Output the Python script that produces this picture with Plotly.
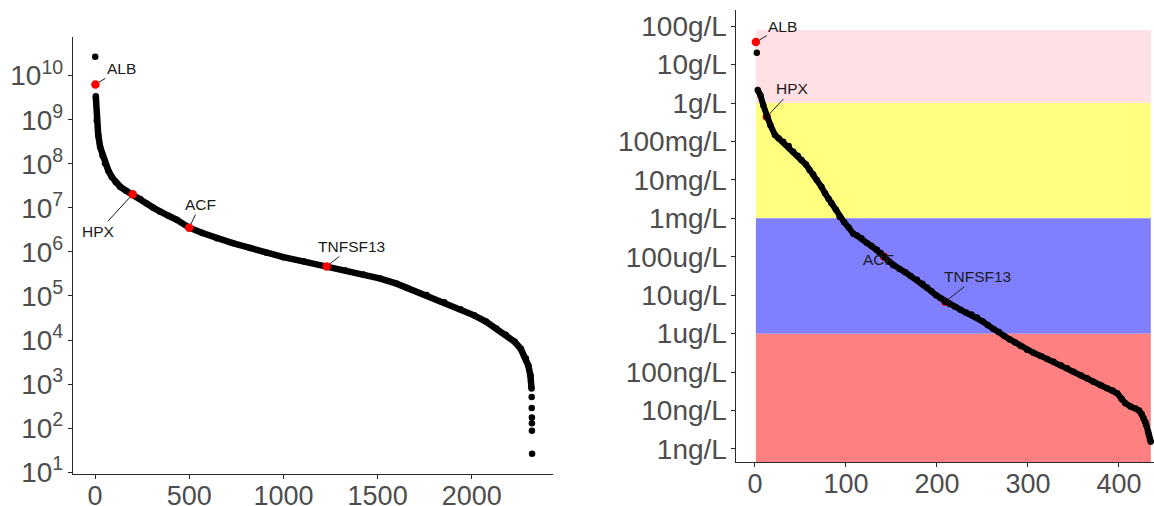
import numpy as np
import plotly.graph_objects as go

# ---------------- data: left panel (rank vs abundance) ----------------
left_rank = [4, 9, 17, 27, 40, 53, 70, 89, 110, 133,
             165, 200, 240, 274, 310, 345, 390, 434, 500, 570,
             646, 730, 823, 910, 1000, 1110, 1230, 1330, 1424, 1510,
             1601, 1657, 1760, 1854, 1940, 2012, 2075, 2130, 2180, 2228,
             2260, 2287, 2300, 2311, 2317]
left_log10 = [9.53, 8.98, 8.65, 8.38, 8.18, 8.01, 7.85, 7.70, 7.58, 7.48,
              7.39, 7.31, 7.20, 7.10, 7.00, 6.91, 6.82, 6.73, 6.55, 6.43,
              6.31, 6.20, 6.09, 5.98, 5.88, 5.78, 5.67, 5.58, 5.49, 5.40,
              5.28, 5.18, 5.02, 4.86, 4.70, 4.56, 4.42, 4.26, 4.12, 3.96,
              3.80, 3.58, 3.42, 3.20, 2.90]
left_extra_rank = [1, 2318, 2318, 2319, 2319, 2319, 2320]
left_extra_log10 = [10.43, 2.71, 2.46, 2.24, 2.11, 1.94, 1.42]
left_hl_names = ["ALB", "HPX", "ACF", "TNFSF13"]
left_hl_rank = [2, 200, 500, 1230]
left_hl_log10 = [9.80, 7.31, 6.55, 5.67]
left_x_ticks = [0, 500, 1000, 1500, 2000]
left_y_tick_exp = [1, 2, 3, 4, 5, 6, 7, 8, 9, 10]

# ---------------- data: right panel (rank vs concentration, ng/L) ----------------
right_rank = [3, 6, 9, 13,
              17, 22, 26, 31, 37, 42, 47, 51, 56, 60,
              64, 68, 73, 77, 81, 84, 89, 93, 98, 103,
              108, 112, 117, 123, 128, 134, 138, 142, 147, 152,
              159, 165, 171, 178, 184, 189, 194, 199, 204, 209,
              214, 220, 226, 232, 238, 244, 250, 256, 262, 268,
              274, 280, 286, 292, 299, 306, 314, 321, 328, 336,
              343, 350, 358, 365, 372, 380, 387, 393, 398, 403,
              407, 413, 418, 422, 425, 427, 429, 430, 432, 433,
              434, 435]
right_log10_ngL = [9.34, 9.20, 8.95, 8.64,
                   8.42, 8.17, 8.08, 7.99, 7.88, 7.73, 7.63, 7.52, 7.40, 7.26,
                   7.14, 7.00, 6.82, 6.65, 6.50, 6.39, 6.22, 6.04, 5.90, 5.76,
                   5.60, 5.55, 5.48, 5.36, 5.28, 5.18, 5.10, 5.00, 4.88, 4.78,
                   4.68, 4.60, 4.50, 4.40, 4.30, 4.20, 4.10, 4.00, 3.92, 3.83,
                   3.77, 3.70, 3.62, 3.55, 3.50, 3.42, 3.32, 3.22, 3.12, 3.04,
                   2.94, 2.85, 2.77, 2.68, 2.58, 2.50, 2.42, 2.34, 2.27, 2.18,
                   2.10, 2.01, 1.92, 1.84, 1.75, 1.66, 1.58, 1.52, 1.45, 1.30,
                   1.19, 1.10, 1.06, 1.00, 0.90, 0.80, 0.70, 0.62, 0.45, 0.36,
                   0.25, 0.19]
right_extra_rank = [2]
right_extra_log10_ngL = [10.31]
right_hl_names = ["ALB", "HPX", "ACF", "TNFSF13"]
right_hl_rank = [1, 13, 142, 209]
right_hl_log10_ngL = [10.585, 8.64, 5.00, 3.83]
right_x_ticks = [0, 100, 200, 300, 400]
right_y_tick_exp = [0, 1, 2, 3, 4, 5, 6, 7, 8, 9, 10, 11]
right_y_tick_labels = ["1ng/L", "10ng/L", "100ng/L", "1ug/L", "10ug/L", "100ug/L",
                       "1mg/L", "10mg/L", "100mg/L", "1g/L", "10g/L", "100g/L"]

# concentration bands (log10 ng/L)
band_low = [9, 6, 3, -3]
band_high = [10.9, 9, 6, 3]
band_colors = ["#FFE0E5", "#FFFF80", "#8080FF", "#FF8080"]
band_rank = [1, 435]

FONT = "Liberation Sans, Arial, sans-serif"
TICK_GREY = "#4D4D4D"
AX_COL = "#2a2a2a"

def p10(v):
    return [10.0 ** x for x in v]

fig = go.Figure()

# ---- left panel ----
fig.add_trace(go.Scatter(x=left_rank, y=p10(left_log10), mode="lines+markers",
                         line=dict(color="black", width=6.5),
                         marker=dict(color="black", size=6.5),
                         xaxis="x", yaxis="y", showlegend=False, hoverinfo="skip"))
fig.add_trace(go.Scatter(x=left_extra_rank, y=p10(left_extra_log10), mode="markers",
                         marker=dict(color="black", size=6.5),
                         xaxis="x", yaxis="y", showlegend=False, hoverinfo="skip"))
fig.add_trace(go.Scatter(x=left_hl_rank, y=p10(left_hl_log10), mode="markers",
                         marker=dict(color="#FF0000", size=8.5),
                         xaxis="x", yaxis="y", showlegend=False, hoverinfo="skip"))

# ---- right panel ----
for lo, hi, col in zip(band_low, band_high, band_colors):
    fig.add_trace(go.Scatter(
        x=[band_rank[0], band_rank[1], band_rank[1], band_rank[0], band_rank[0]],
        y=p10([lo, lo, hi, hi, lo]), mode="lines", fill="toself",
        fillcolor=col, line=dict(width=0, color=col),
        xaxis="x2", yaxis="y2", showlegend=False, hoverinfo="skip"))
fig.add_trace(go.Scatter(x=right_hl_rank, y=p10(right_hl_log10_ngL), mode="markers",
                         marker=dict(color="#FF0000", size=8.5),
                         xaxis="x2", yaxis="y2", showlegend=False, hoverinfo="skip"))
fig.add_trace(go.Scatter(x=right_rank, y=p10(right_log10_ngL), mode="lines+markers",
                         line=dict(color="black", width=6),
                         marker=dict(color="black", size=6.5),
                         xaxis="x2", yaxis="y2", showlegend=False, hoverinfo="skip"))
fig.add_trace(go.Scatter(x=right_extra_rank, y=p10(right_extra_log10_ngL), mode="markers",
                         marker=dict(color="black", size=6.5),
                         xaxis="x2", yaxis="y2", showlegend=False, hoverinfo="skip"))

# ---- labels ----
lab_font = dict(family=FONT, size=15.5, color="#1a1a1a")
left_offsets = {"ALB": (26, -16), "HPX": (-34, 37), "ACF": (11, -23), "TNFSF13": (25, -20)}
right_offsets = {"ALB": (27, -16), "HPX": (26, -28), "TNFSF13": (32, -25)}
annotations = []
for n, r, v in zip(left_hl_names, left_hl_rank, left_hl_log10):
    dx, dy = left_offsets[n]
    annotations.append(dict(x=r, y=v, xref="x", yref="y", text=n, showarrow=True,
                            arrowhead=0, arrowwidth=1, arrowcolor="#1a1a1a",
                            ax=dx, ay=dy, standoff=4, font=lab_font))
for n, r, v in zip(right_hl_names, right_hl_rank, right_hl_log10_ngL):
    if n in right_offsets:
        dx, dy = right_offsets[n]
        annotations.append(dict(x=r, y=v, xref="x2", yref="y2", text=n, showarrow=True,
                                arrowhead=0, arrowwidth=1, arrowcolor="#1a1a1a",
                                ax=dx, ay=dy, standoff=4, font=lab_font))
    else:
        annotations.append(dict(x=r, y=v, xref="x2", yref="y2", text=n, showarrow=False,
                                xshift=-6, yshift=-3, font=lab_font))

tick_font = dict(family=FONT, size=28, color=TICK_GREY)
xtick_font = dict(family=FONT, size=27, color=TICK_GREY)
axis_common = dict(showgrid=False, zeroline=False, showline=True, linecolor=AX_COL,
                   linewidth=1.3, ticks="outside", ticklen=4, tickwidth=1.2,
                   tickcolor=AX_COL, automargin=False)

fig.update_layout(
    width=1154, height=506,
    margin=dict(l=0, r=0, t=0, b=0),
    paper_bgcolor="white", plot_bgcolor="white",
    font=dict(family=FONT),
    xaxis=dict(domain=[73 / 1154, 553 / 1154], range=[-117, 2431], anchor="y",
               tickmode="array", tickvals=left_x_ticks, ticklabelstandoff=-7,
               tickfont=xtick_font,
               ticktext=[str(t) for t in left_x_ticks], **axis_common),
    yaxis=dict(domain=[32 / 506, 468.7 / 506], type="log", range=[0.96, 10.87], anchor="x",
               tickmode="array", tickvals=[10.0 ** e for e in left_y_tick_exp],
               ticklabelstandoff=-1, tickfont=tick_font,
               ticktext=["10<sup>%d</sup>" % e for e in left_y_tick_exp], **axis_common),
    xaxis2=dict(domain=[735.7 / 1154, 1.0], range=[-21.2, 438.5], anchor="y2",
                tickmode="array", tickvals=right_x_ticks, ticklabelstandoff=-7,
                tickfont=xtick_font,
                ticktext=[str(t) for t in right_x_ticks], **axis_common),
    yaxis2=dict(domain=[44 / 506, 496 / 506], type="log", range=[-0.34, 11.42], anchor="x2",
                tickmode="array", tickvals=[10.0 ** e for e in right_y_tick_exp],
                ticklabelstandoff=-2, tickfont=tick_font,
                ticktext=right_y_tick_labels, **axis_common),
    annotations=annotations,
)

fig.write_html("out.html", config={"displayModeBar": False},
               post_script="document.body.style.margin='0px';document.body.style.overflow='hidden';")
